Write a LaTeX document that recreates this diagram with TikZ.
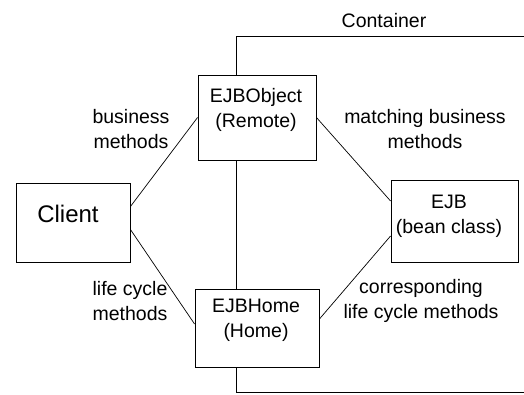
\documentclass[tikz,border=0pt]{standalone}
\usepackage{fontspec}
\setmainfont{Liberation Sans}
\begin{document}
\begin{tikzpicture}[x=1pt,y=-1pt,
  box/.style={draw,line width=0.9pt,inner sep=0pt},
  txt/.style={font=\fontsize{19.5}{24.5}\selectfont,align=center,anchor=base,inner sep=0pt},
  link/.style={line width=0.7pt}]
\useasboundingbox (0,0) rectangle (524,394);
% boxes
\node[box,minimum width=114pt,minimum height=79pt] (client) at (73,222.5) {};
\node[box,minimum width=118pt,minimum height=85pt] (remote) at (257,117.5) {};
\node[box,minimum width=124pt,minimum height=78pt] (home) at (257,328) {};
\node[box,minimum width=127pt,minimum height=82pt] (bean) at (454.5,221) {};
% box texts (base = last line)
\node[txt,font=\fontsize{24}{28}\selectfont] (clienttxt) at (68,222) {Client};
\node[txt] (remotetxt) at (256,127) {EJBObject\\(Remote)};
\node[txt] (hometxt) at (256,337) {EJBHome\\(Home)};
\node[txt] (beantxt) at (449,233) {EJB\\(bean class)};
% container border
\coordinate (ctop) at (524,36);
\coordinate (cbot) at (524,392);
\draw[line width=0.9pt] (ctop) -| ([xshift=-21pt]remote.north);
\draw[line width=0.9pt] ([xshift=-21pt]remote.south) -- ([xshift=-21pt]home.north);
\draw[line width=0.9pt] ([xshift=-21pt]home.south) |- (cbot);
\node[txt] (container) at (384,27) {Container};
% method calls
\draw[link] ([yshift=16pt]client.east) -- (remote.west);
\draw[link] ([yshift=-7pt]client.east) -- ([yshift=4pt]home.west);
\draw[link] (remote.east) -- ([yshift=20pt]bean.west);
\draw[link] ([yshift=-15pt]bean.west) -- ([yshift=9pt]home.east);
% call labels
\node[txt] (busy) at (131,148) {business\\methods};
\node[txt] (match) at (425,148) {matching business\\methods};
\node[txt] (life) at (130,320) {life cycle\\methods};
\node[txt] (corr) at (421,318) {corresponding\\life cycle methods};
\end{tikzpicture}
\end{document}
